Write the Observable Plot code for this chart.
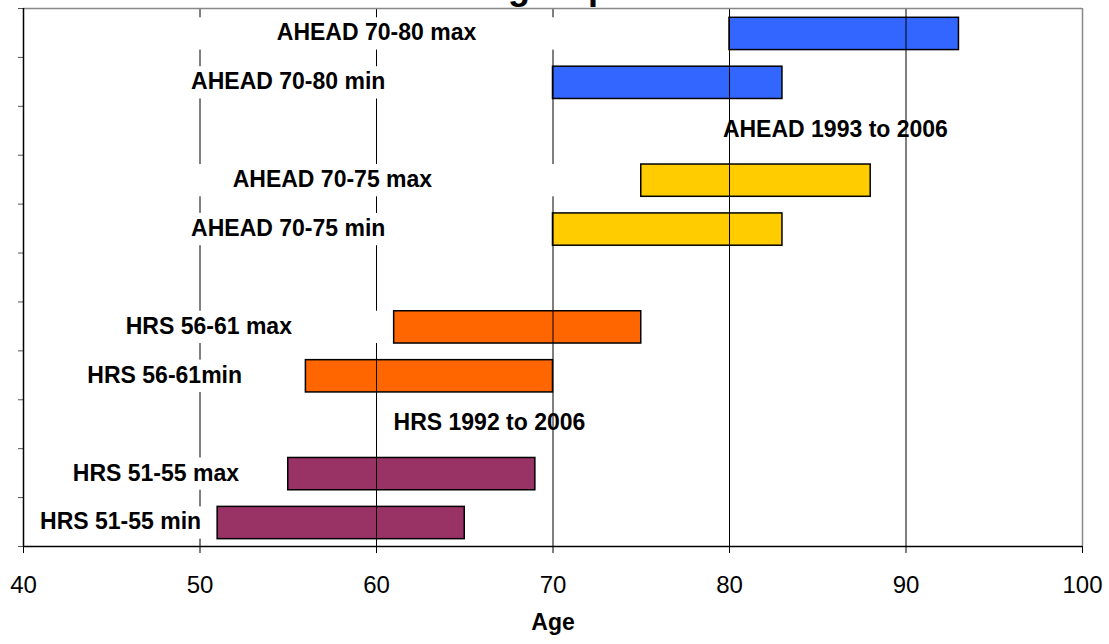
<!DOCTYPE html>
<html>
<head>
<meta charset="utf-8">
<script src="https://cdn.jsdelivr.net/npm/d3@7"></script>
<script src="https://cdn.jsdelivr.net/npm/@observablehq/plot@0.6"></script>
<style>
  html, body { margin: 0; padding: 0; background: #fff; }
  #wrap { position: relative; width: 1109px; height: 644px; overflow: hidden; font-family: "Liberation Sans", Arial, sans-serif; }
  #title { position: absolute; left: 380px; top: -31px; font-size: 36px; line-height: 36px; font-weight: bold; white-space: nowrap; color: #000; }
  #chart { position: absolute; left: 0; top: 0; }
</style>
</head>
<body>
<div id="wrap">
  <div id="chart"></div>
  <div id="title">Cohort groups</div>
</div>
<script>
// Rows from top to bottom ("" = empty row)
const rowNames = [
  "AHEAD 70-80 max", "AHEAD 70-80 min", "AHEAD 1993 to 2006",
  "AHEAD 70-75 max", "AHEAD 70-75 min", "",
  "HRS 56-61 max", "HRS 56-61min", "HRS 1992 to 2006",
  "HRS 51-55 max", "HRS 51-55 min"
];

// Bars (age ranges)
const barLabels = ["AHEAD 70-80 max", "AHEAD 70-80 min", "AHEAD 70-75 max", "AHEAD 70-75 min",
                   "HRS 56-61 max", "HRS 56-61min", "HRS 51-55 max", "HRS 51-55 min"];
const barStart  = [80, 70, 75, 70, 61, 56, 55, 51];
const barEnd    = [93, 83, 88, 83, 75, 70, 69, 65];
const barColors = ["#3366FF", "#3366FF", "#FFCC00", "#FFCC00", "#FF6600", "#FF6600", "#993366", "#993366"];

// Group annotations
const groupLabels = ["AHEAD 1993 to 2006", "HRS 1992 to 2006"];
const groupX      = [86, 66.4];

// Axis
const xTicks = [40, 50, 60, 70, 80, 90, 100];
const xLabel = "Age";

const xMin = xTicks[0], xMax = xTicks[xTicks.length - 1];
const nRows = rowNames.length;

const bars = barLabels.map((label, i) => ({
  label, start: barStart[i], end: barEnd[i], color: barColors[i], row: rowNames.indexOf(label)
}));
const groups = groupLabels.map((label, i) => ({ label, x: groupX[i], row: rowNames.indexOf(label) }));

const bandTop = 0.19, bandBottom = 0.85;
const font = "'Liberation Sans', Arial, sans-serif";

const chart = Plot.plot({
  width: 1109,
  height: 644,
  marginTop: 8,
  marginBottom: 98,
  marginLeft: 23,
  marginRight: 27,
  style: { fontFamily: font, background: "#fff", color: "#000" },
  x: { domain: [xMin, xMax] },
  y: { domain: [0, nRows], reverse: true },
  color: { type: "identity" },
  marks: [
    Plot.text(groups, {
      x: "x", y: d => d.row + 0.47, text: "label",
      fontWeight: "bold", fontSize: 23, fill: "#000"
    }),
    Plot.rect(bars, {
      x1: "start", x2: "end",
      y1: d => d.row + bandTop, y2: d => d.row + bandBottom,
      fill: d => d.color, stroke: "#000", strokeWidth: 1.5
    }),
    Plot.ruleX(xTicks.filter(v => v > xMin && v < xMax), {
      y1: 0, y2: nRows, stroke: "#000", strokeWidth: 1
    }),
    Plot.rect(bars, {
      x1: d => xMin, x2: "start",
      y1: d => d.row + bandTop, y2: d => d.row + bandBottom,
      fill: "#fff", insetLeft: 1, insetRight: 1.5
    }),
    Plot.text(bars, {
      x: d => (xMin + d.start) / 2, y: d => d.row + 0.5, text: "label",
      fontWeight: "bold", fontSize: 23, fill: "#000"
    }),
    Plot.ruleY([0], { stroke: "#888", strokeWidth: 1.5 }),
    Plot.ruleX([xMax], { stroke: "#888", strokeWidth: 1.5 }),
    Plot.axisY({ ticks: d3.range(nRows + 1), tickSize: 5, tickFormat: () => "", label: null, stroke: "#555" }),
    Plot.axisX({ ticks: xTicks, tickSize: 7, tickPadding: 22, fontSize: 24, label: null }),
    Plot.ruleX([xMin], { stroke: "#000", strokeWidth: 1.5 }),
    Plot.ruleY([nRows], { stroke: "#000", strokeWidth: 1.5 }),
    Plot.text([xLabel], {
      frameAnchor: "bottom", dy: 83, text: d => d,
      fontWeight: "bold", fontSize: 23, fill: "#000"
    })
  ]
});
document.getElementById("chart").appendChild(chart);
</script>
</body>
</html>
